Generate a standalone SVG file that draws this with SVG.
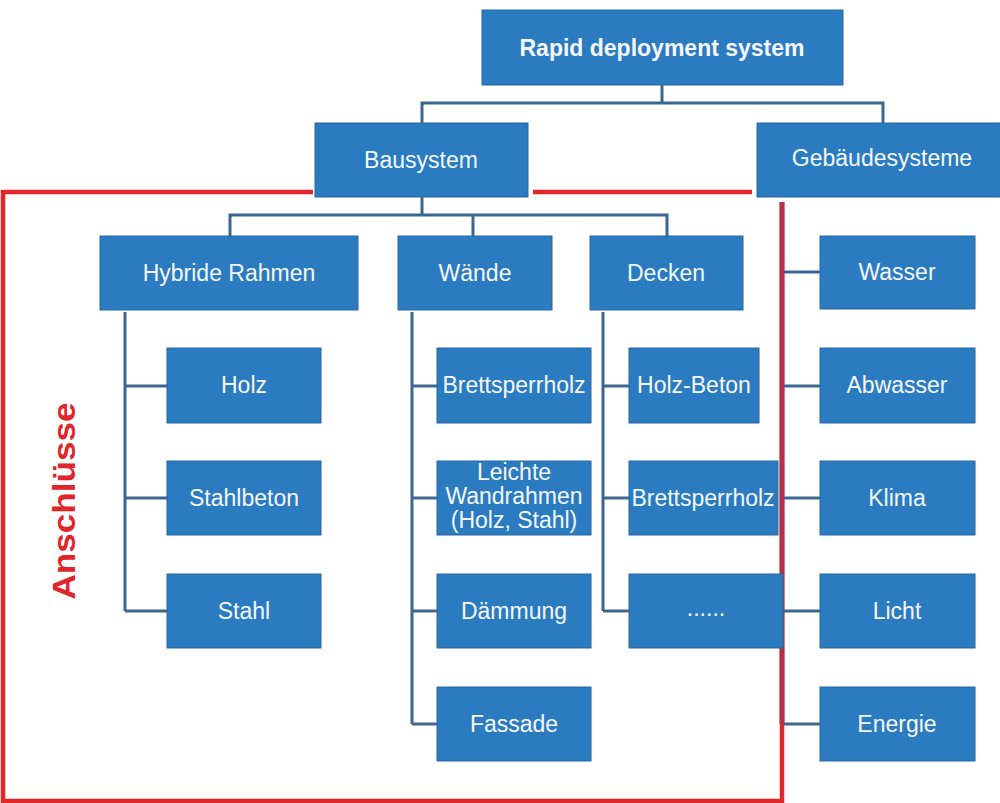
<svg xmlns="http://www.w3.org/2000/svg" width="1000" height="803" viewBox="0 0 1000 803">
<defs>
<style>
.box{fill:#2b7bc1;stroke:#2868a3;stroke-width:1}
.t{fill:#f4f7fb;font-family:"Liberation Sans",Arial,sans-serif;font-size:23px;text-anchor:middle}
.conn{fill:none;stroke:#3d6790;stroke-width:3}
.red{fill:none;stroke:#e2272b;stroke-width:4.5}
</style>
</defs>
<rect width="1000" height="803" fill="#ffffff"/>
<g id="frame">
<path class="red" d="M313,192 H3 V801 H782 V202"/>
<path class="red" d="M533,192 H752"/>
<text x="0" y="0" transform="translate(75,501) rotate(-90)" fill="#e0252b" font-family="Liberation Sans,Arial,sans-serif" font-weight="bold" font-size="32" text-anchor="middle" textLength="197" lengthAdjust="spacingAndGlyphs">Anschlüsse</text>
</g>
<g id="connectors">
<path class="conn" d="M662,85 V103 M422,123 V103 H883 V123"/>
<path class="conn" d="M422,197 V215 M230,236 V215 H667 V236 M473,215 V236"/>
<path class="conn" d="M125,312 V611 M125,386 H167 M125,498 H167 M125,611 H167"/>
<path class="conn" d="M412,312 V724 M412,386 H437 M412,498 H437 M412,611 H437 M412,724 H437"/>
<path class="conn" d="M603,312 V611 M603,386 H629 M603,498 H629 M603,611 H629"/>
<path fill="none" stroke="#b3304b" stroke-width="5" d="M782,202 V724"/>
<path class="conn" d="M784,272 H820 M784,386 H820 M784,498 H820 M784,611 H820 M784,724 H820"/>
</g>
<g id="n-root"><rect class="box" x="482" y="10" width="361" height="75"/><text class="t" x="662" y="56" font-weight="bold" font-size="22">Rapid deployment system</text></g>
<g id="n-bausystem"><rect class="box" x="315" y="123" width="213" height="74"/><text class="t" x="421" y="168" font-size="22">Bausystem</text></g>
<g id="n-gebaeude"><rect class="box" x="757" y="123" width="252" height="74"/><text class="t" x="882" y="166" font-size="19">Gebäudesysteme</text></g>
<g id="n-hybride"><rect class="box" x="100" y="236" width="258" height="74"/><text class="t" x="229" y="281">Hybride Rahmen</text></g>
<g id="n-waende"><rect class="box" x="398" y="236" width="154" height="74"/><text class="t" x="475" y="281">Wände</text></g>
<g id="n-decken"><rect class="box" x="590" y="236" width="153" height="74"/><text class="t" x="666" y="281">Decken</text></g>
<g id="n-holz"><rect class="box" x="167" y="348" width="154" height="75"/><text class="t" x="244" y="393">Holz</text></g>
<g id="n-stahlbeton"><rect class="box" x="167" y="461" width="154" height="74"/><text class="t" x="244" y="506">Stahlbeton</text></g>
<g id="n-stahl"><rect class="box" x="167" y="574" width="154" height="74"/><text class="t" x="244" y="619">Stahl</text></g>
<g id="n-bsp-w"><rect class="box" x="437" y="348" width="154" height="75"/><text class="t" x="514" y="393">Brettsperrholz</text></g>
<g id="n-leichte"><rect class="box" x="437" y="461" width="154" height="74"/><text class="t" font-size="16.5"><tspan x="514" y="480">Leichte</tspan><tspan x="514" y="504">Wandrahmen</tspan><tspan x="514" y="528">(Holz, Stahl)</tspan></text></g>
<g id="n-daemmung"><rect class="box" x="437" y="574" width="154" height="74"/><text class="t" x="514" y="619">Dämmung</text></g>
<g id="n-fassade"><rect class="box" x="437" y="687" width="154" height="74"/><text class="t" x="514" y="732">Fassade</text></g>
<g id="n-holzbeton"><rect class="box" x="629" y="348" width="130" height="75"/><text class="t" x="694" y="393">Holz-Beton</text></g>
<g id="n-bsp-d"><rect class="box" x="629" y="461" width="149" height="74"/><text class="t" x="703" y="506" font-size="22">Brettsperrholz</text></g>
<g id="n-more"><rect class="box" x="629" y="574" width="154" height="74"/><text class="t" x="706" y="616" font-size="14">......</text></g>
<g id="n-wasser"><rect class="box" x="820" y="236" width="155" height="73"/><text class="t" x="897" y="280">Wasser</text></g>
<g id="n-abwasser"><rect class="box" x="820" y="348" width="155" height="75"/><text class="t" x="897" y="393">Abwasser</text></g>
<g id="n-klima"><rect class="box" x="820" y="461" width="155" height="74"/><text class="t" x="897" y="506">Klima</text></g>
<g id="n-licht"><rect class="box" x="820" y="574" width="155" height="74"/><text class="t" x="897" y="619">Licht</text></g>
<g id="n-energie"><rect class="box" x="820" y="687" width="155" height="74"/><text class="t" x="897" y="732">Energie</text></g>
</svg>
